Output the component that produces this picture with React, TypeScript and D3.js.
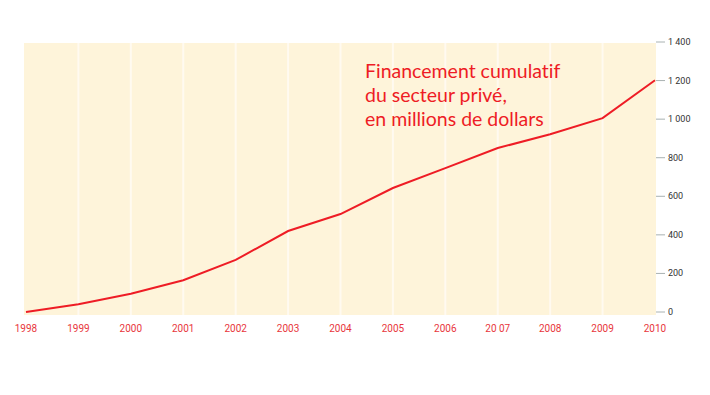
// @ts-nocheck
import React, { useEffect, useRef } from "react";
import * as d3 from "d3";

const years = [1998, 1999, 2000, 2001, 2002, 2003, 2004, 2005, 2006, 2007, 2008, 2009, 2010];
const yearLabels = ["1998", "1999", "2000", "2001", "2002", "2003", "2004", "2005", "2006", "20 07", "2008", "2009", "2010"];
const funding = [0, 40, 95, 165, 270, 420, 508, 643, 746, 850, 922, 1005, 1202];
const yTicks = [0, 200, 400, 600, 800, 1000, 1200, 1400];
const titleLines = ["Financement cumulatif", "du secteur privé,", "en millions de dollars"];

export default function App() {
  const ref = useRef();

  useEffect(() => {
    document.body.style.margin = "0";
    const root = d3.select(ref.current);
    root.selectAll("*").remove();

    const svg = root.append("svg").attr("width", 710).attr("height", 395).style("display", "block");
    svg.append("rect").attr("width", 710).attr("height", 395).attr("fill", "#ffffff");

    const x = d3.scaleLinear().domain([1998, 2010]).range([26, 655]);
    const y = d3.scaleLinear().domain([0, 1400]).range([312, 42]);

    // background panel
    svg
      .append("rect")
      .attr("x", 24)
      .attr("y", 43)
      .attr("width", 632)
      .attr("height", 272)
      .attr("fill", "#fef4da");

    // light separators at each year
    svg
      .selectAll(".grid")
      .data(years.slice(1, -1))
      .enter()
      .append("line")
      .attr("x1", (d) => x(d))
      .attr("x2", (d) => x(d))
      .attr("y1", 43)
      .attr("y2", 315)
      .attr("stroke", "#fffaf0")
      .attr("stroke-width", 2);

    // right axis
    const axis = svg.append("g");
    axis
      .selectAll("line")
      .data(yTicks)
      .enter()
      .append("line")
      .attr("x1", 656)
      .attr("x2", 665)
      .attr("y1", (d) => y(d))
      .attr("y2", (d) => y(d))
      .attr("stroke", "#a9b2b2")
      .attr("stroke-width", 1);
    axis
      .selectAll("text")
      .data(yTicks)
      .enter()
      .append("text")
      .attr("x", 668)
      .attr("y", (d) => y(d) + 3)
      .text((d) => d3.format(",")(d).replace(",", " "))
      .style("font-family", "'Liberation Sans Narrow', 'Roboto', sans-serif")
      .style("font-size", "9px")
      .style("fill", "#333333");

    // year labels
    svg
      .selectAll(".year")
      .data(years)
      .enter()
      .append("text")
      .attr("x", (d) => x(d))
      .attr("y", 332)
      .attr("text-anchor", "middle")
      .text((d, i) => yearLabels[i])
      .style("font-family", "'Liberation Sans Narrow', 'Roboto', sans-serif")
      .style("font-size", "10px")
      .style("fill", "#e8363c");

    // line
    svg
      .append("path")
      .datum(funding)
      .attr(
        "d",
        d3
          .line()
          .x((d, i) => x(years[i]))
          .y((d) => y(d)),
      )
      .style("fill", "none")
      .style("stroke", "#ee1c25")
      .style("stroke-width", 2);

    // title
    svg
      .selectAll(".title")
      .data(titleLines)
      .enter()
      .append("text")
      .attr("x", 365)
      .attr("y", (d, i) => 78 + i * 24)
      .text((d) => d)
      .style("font-family", "Lato, sans-serif")
      .style("font-size", "19.5px")
      .style("font-variant-ligatures", "none")
      .style("fill", "#ee1c25");
  }, []);

  return <div ref={ref} style={{ width: 710, height: 395 }}></div>;
}
